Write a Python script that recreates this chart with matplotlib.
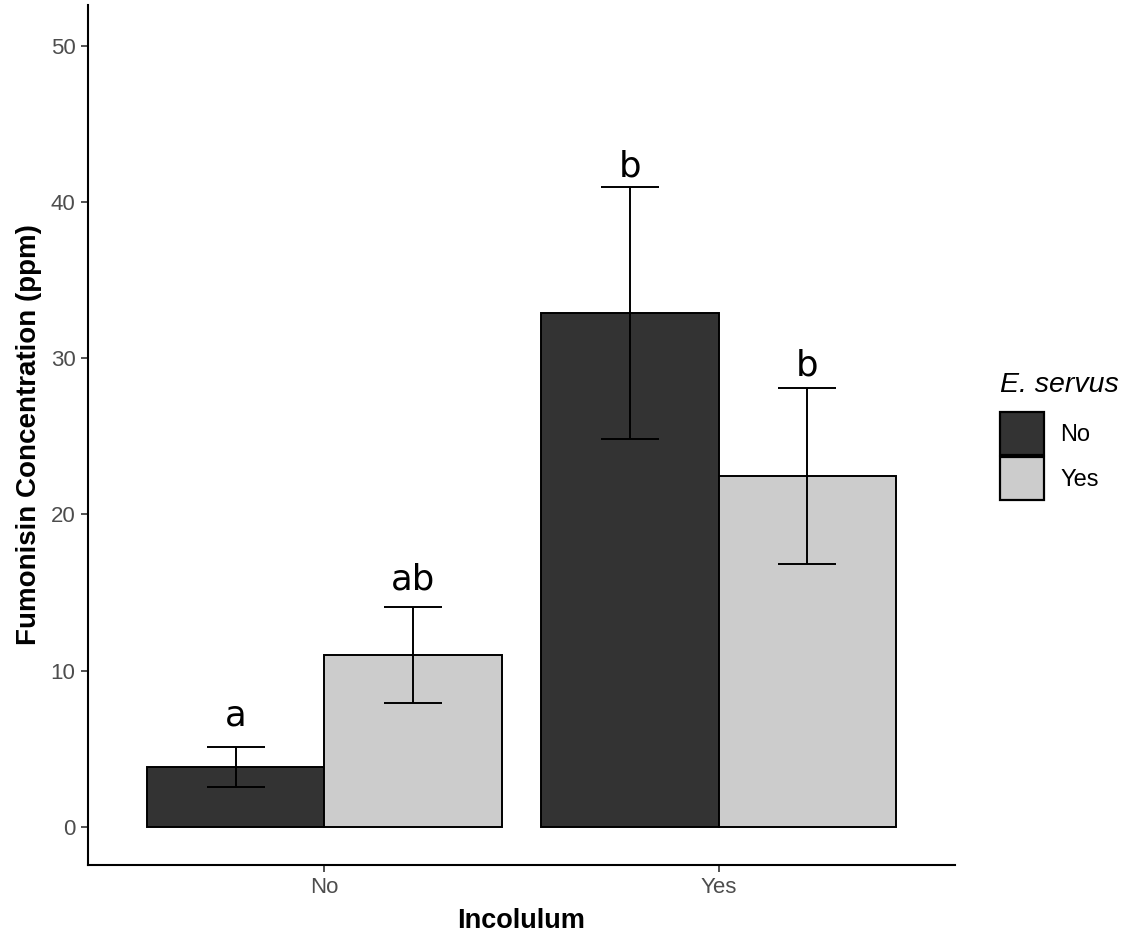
import matplotlib
matplotlib.use('Agg')
import matplotlib.pyplot as plt
from matplotlib.patches import Patch
import numpy as np

# data
inoculum = ['No', 'Yes']
servus_levels = ['No', 'Yes']
fum_mean = {'No': [3.84, 32.9], 'Yes': [11.02, 22.47]}
fum_se = {'No': [1.30, 8.07], 'Yes': [3.06, 5.63]}
letters = {'No': ['a', 'b'], 'Yes': ['ab', 'b']}
letter_y = {'No': [6.5, 41.6], 'Yes': [15.2, 28.9]}

colors = {'No': '#333333', 'Yes': '#CCCCCC'}

plt.rcParams['font.family'] = ['Liberation Sans', 'DejaVu Sans']

fig = plt.figure(figsize=(11.28, 9.36), dpi=100)
ax = fig.add_axes([0.078, 0.0759, 0.7686, 0.9188])

x = np.arange(1, len(inoculum) + 1)
w = 0.45
for i, lev in enumerate(servus_levels):
    xs = x + (i - 0.5) * w
    ax.bar(xs, fum_mean[lev], width=w, color=colors[lev], edgecolor='black',
           linewidth=1.4, zorder=2)
    ax.errorbar(xs, fum_mean[lev], yerr=fum_se[lev], fmt='none', ecolor='black',
                elinewidth=1.4, capsize=21, capthick=1.4, zorder=3)
    for xx, ly, lab in zip(xs, letter_y[lev], letters[lev]):
        ax.text(xx, ly, lab, ha='center', va='baseline', fontsize=25.5,
                family='DejaVu Sans', color='black')

ax.set_xlim(0.4, 2.6)
ax.set_ylim(-2.43, 52.6)
ax.set_xticks(x)
ax.set_xticklabels(inoculum)
ax.set_yticks([0, 10, 20, 30, 40, 50])

for sp in ['top', 'right']:
    ax.spines[sp].set_visible(False)
for sp in ['left', 'bottom']:
    ax.spines[sp].set_linewidth(1.5)
    ax.spines[sp].set_color('black')

ax.tick_params(axis='both', length=5, width=1.2, color='#333333',
               labelcolor='#4D4D4D', labelsize=16, pad=4)

ax.set_xlabel('Incolulum', fontsize=19.5, fontweight='bold', labelpad=7)
ax.set_ylabel('Fumonisin Concentration (ppm)', fontsize=20, fontweight='bold',
              labelpad=6)

# legend: title drawn separately so the gap to the keys matches
fig.text(0.8865, 0.5812, 'E. servus', fontsize=20.5, fontstyle='italic',
         ha='left', va='baseline')
handles = [Patch(facecolor=colors[l], edgecolor='black', linewidth=1.6)
           for l in servus_levels]
leg = fig.legend(handles, servus_levels, loc='upper left',
                 bbox_to_anchor=(0.8865, 0.5598), frameon=False, fontsize=17,
                 handlelength=1.85, handleheight=2.45, borderpad=0,
                 borderaxespad=0, labelspacing=0.05, handletextpad=0.7)

fig.savefig('out.png', dpi=100)
